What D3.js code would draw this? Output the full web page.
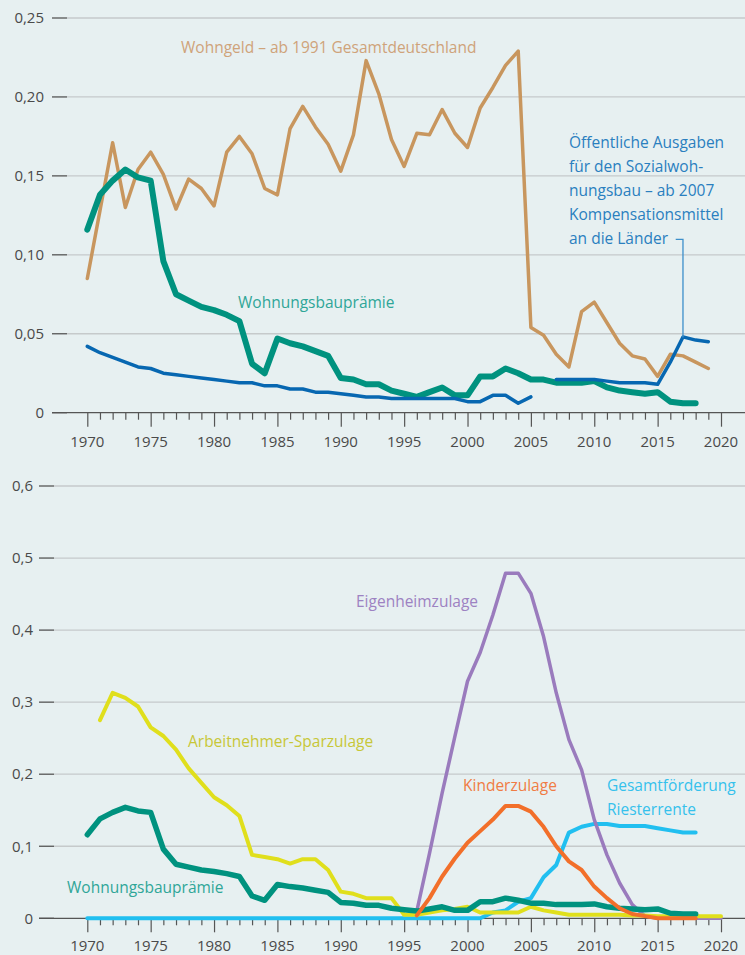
<!DOCTYPE html>
<html><head><meta charset="utf-8">
<script src="https://cdn.jsdelivr.net/npm/d3@7"></script>
<style>
html,body{margin:0;padding:0;background:#e7f0f1;}
svg{display:block;font-family:"Open Sans",sans-serif;}
</style></head>
<body><svg id="c" width="745" height="955"></svg>
<script>
const years = d3.range(1970, 2021);
const xTickYears = [1970,1975,1980,1985,1990,1995,2000,2005,2010,2015,2020];
const topYTicks = [0,0.05,0.10,0.15,0.20,0.25];
const topYLabels = ["0","0,05","0,10","0,15","0,20","0,25"];
const botYTicks = [0,0.1,0.2,0.3,0.4,0.5,0.6];
const botYLabels = ["0","0,1","0,2","0,3","0,4","0,5","0,6"];

// Wohngeld 1970-2019
const wohngeld = [0.085,0.128,0.171,0.130,0.154,0.165,0.151,0.129,0.148,0.142,0.131,0.165,0.175,0.164,0.142,0.138,0.180,0.194,0.181,0.170,0.153,0.176,0.223,0.202,0.173,0.156,0.177,0.176,0.192,0.177,0.168,0.193,0.206,0.220,0.229,0.054,0.049,0.037,0.029,0.064,0.070,0.057,0.044,0.036,0.034,0.023,0.037,0.036,0.032,0.028];
// Wohnungsbauprämie 1970-2018
const praemie = [0.116,0.138,0.147,0.154,0.149,0.147,0.096,0.075,0.071,0.067,0.065,0.062,0.058,0.031,0.025,0.047,0.044,0.042,0.039,0.036,0.022,0.021,0.018,0.018,0.014,0.012,0.010,0.013,0.016,0.011,0.011,0.023,0.023,0.028,0.025,0.021,0.021,0.019,0.019,0.019,0.020,0.016,0.014,0.013,0.012,0.013,0.007,0.006,0.006];
// Sozialwohnungsbau 1970-2005, 2007-2019 (null = gap)
const sozial = [0.042,0.038,0.035,0.032,0.029,0.028,0.025,0.024,0.023,0.022,0.021,0.020,0.019,0.019,0.017,0.017,0.015,0.015,0.013,0.013,0.012,0.011,0.010,0.010,0.009,0.009,0.009,0.009,0.009,0.009,0.007,0.007,0.011,0.011,0.006,0.010,null,0.021,0.021,0.021,0.021,0.020,0.019,0.019,0.019,0.018,0.032,0.048,0.046,0.045];
// Arbeitnehmer-Sparzulage 1971-2020
const sparzulage = [null,0.275,0.313,0.306,0.294,0.265,0.253,0.234,0.208,0.188,0.168,0.157,0.142,0.088,0.085,0.082,0.076,0.082,0.082,0.067,0.037,0.034,0.028,0.028,0.028,0.005,0.005,0.008,0.011,0.013,0.016,0.008,0.008,0.008,0.008,0.016,0.011,0.008,0.005,0.005,0.005,0.005,0.005,0.004,0.004,0.003,0.003,0.003,0.003,0.003,0.003];
// Eigenheimzulage 1996-2020
const eigenheimYears = d3.range(1996, 2021);
const eigenheim = [0.010,0.090,0.174,0.252,0.329,0.369,0.421,0.479,0.479,0.451,0.391,0.313,0.248,0.206,0.137,0.088,0.049,0.019,0.003,0,0,0,0,0,0];
// Kinderzulage 1996-2018
const kinderYears = d3.range(1996, 2019);
const kinder = [0.004,0.028,0.058,0.083,0.105,0.121,0.137,0.156,0.156,0.148,0.127,0.100,0.079,0.067,0.044,0.028,0.014,0.006,0.003,0,0,0,0];
// Riester 1970-2018
const riesterYears = d3.range(1970, 2019);
const riester = [0,0,0,0,0,0,0,0,0,0,0,0,0,0,0,0,0,0,0,0,0,0,0,0,0,0,0,0,0,0,0,0,0.008,0.011,0.023,0.028,0.057,0.074,0.119,0.127,0.131,0.131,0.128,0.128,0.128,0.125,0.122,0.119,0.119];

const svg = d3.select("#c");
const x = d3.scaleLinear().domain([1970,2020]).range([87.3,721]);
const yT = d3.scaleLinear().domain([0,0.25]).range([412.7,18]);
const yB = d3.scaleLinear().domain([0,0.6]).range([918.3,486]);

const gridCol = "#c6cacb", axisCol = "#555", txtCol = "#4a4a4a";

function panel(y, ticks, labels, tickX0, tickX1, labelX, yearOff) {
  const g = svg.append("g");
  ticks.forEach((t,i)=>{
    if (t !== 0) {
      g.append("line").attr("x1",tickX1).attr("x2",745).attr("y1",y(t)).attr("y2",y(t))
        .attr("stroke",gridCol).attr("stroke-width",1.3);
    }
    g.append("line").attr("x1",tickX0).attr("x2",tickX1).attr("y1",y(t)).attr("y2",y(t))
      .attr("stroke",axisCol).attr("stroke-width",1.3);
    g.append("text").attr("x",labelX).attr("y",y(t)).attr("dy","0.35em")
      .attr("text-anchor","end").attr("font-size",15).attr("fill",txtCol).text(labels[i]);
  });
  g.append("line").attr("x1",tickX0).attr("x2",745).attr("y1",y(0)).attr("y2",y(0))
    .attr("stroke",axisCol).attr("stroke-width",1.3);
  const ax = d3.axisBottom(x).tickValues(years).tickSize(7).tickFormat("");
  const axg = g.append("g").attr("transform",`translate(0,${y(0)})`).call(ax);
  axg.select(".domain").remove();
  axg.selectAll(".tick line").attr("stroke",axisCol).attr("stroke-width",1.2)
    .attr("y2", d => xTickYears.includes(d) ? 14 : 7);
  xTickYears.forEach(yr=>{
    g.append("text").attr("x",x(yr)).attr("y",y(0)+yearOff).attr("dy","0.35em").attr("text-anchor","middle")
      .attr("font-size",15).attr("fill",txtCol).text(yr);
  });
  return g;
}

panel(yT, topYTicks, topYLabels, 52, 67, 44, 29);
panel(yB, botYTicks, botYLabels, 39, 54, 33, 27);

function drawLine(xs, vals, y, color, w) {
  const data = xs.map((yr,i)=>({yr, v: vals[i]}));
  const line = d3.line().defined(d=>d.v!=null).x(d=>x(d.yr)).y(d=>y(d.v));
  svg.append("path").datum(data).attr("d",line).attr("fill","none")
    .attr("stroke",color).attr("stroke-width",w).attr("stroke-linejoin","round").attr("stroke-linecap","round");
}

const C = {tan:"#c8965e", teal:"#00927f", blue:"#0767b1", yellow:"#e0df1c", purple:"#9a7bbd", orange:"#f26f2a", cyan:"#21bff0"};

drawLine(years.slice(0,50), wohngeld, yT, C.tan, 3.5);
drawLine(years.slice(0,49), praemie, yT, C.teal, 6);
drawLine(years.slice(0,50), sozial, yT, C.blue, 3.5);

drawLine(riesterYears, riester, yB, C.cyan, 4);
drawLine(eigenheimYears, eigenheim, yB, C.purple, 3.5);
drawLine(years, sparzulage, yB, C.yellow, 4);
drawLine(years.slice(0,49), praemie, yB, C.teal, 5.5);
drawLine(kinderYears, kinder, yB, C.orange, 4);

function label(txt, xx, yy, col) {
  svg.append("text").attr("x",xx).attr("y",yy).attr("dy","0.35em").attr("font-size",15.5).attr("fill",col).text(txt);
}
label("Wohngeld – ab 1991 Gesamtdeutschland", 181, 48, "#cfa37a");
label("Wohnungsbauprämie", 238, 303, "#2fa698");
const ann = ["Öffentliche Ausgaben","für den Sozialwoh-","nungsbau – ab 2007","Kompensationsmittel","an die Länder"];
ann.forEach((t,i)=>label(t, 569, 142.7 + i*24, "#2a7fbf"));
svg.append("path").attr("d",`M675.7,239.3 H${x(2017)} V${yT(0.0476)}`).attr("fill","none").attr("stroke","#3d8fca").attr("stroke-width",1.3);

label("Arbeitnehmer-Sparzulage", 188, 742, "#c7c738");
label("Eigenheimzulage", 356, 602, "#9d82c2");
label("Kinderzulage", 463, 786, "#f07c44");
label("Gesamtförderung", 607, 786, "#35c1ec");
label("Riesterrente", 607, 809.5, "#35c1ec");
label("Wohnungsbauprämie", 67, 888, "#2fa698");
</script></body></html>
